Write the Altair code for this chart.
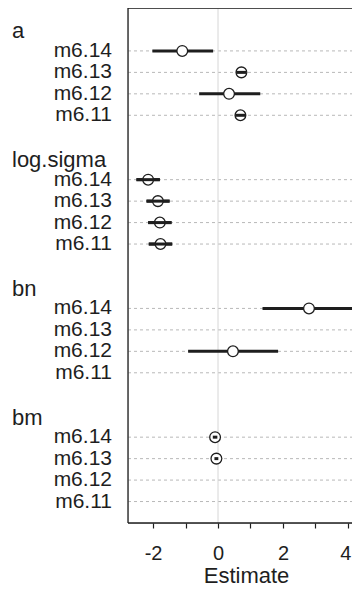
import altair as alt
import pandas as pd

groups = ["a", "log.sigma", "bn", "bm"]
models = ["m6.14", "m6.13", "m6.12", "m6.11"]

est_a = [-1.10, 0.72, 0.34, 0.69]
lo_a = [-2.02, 0.56, -0.58, 0.53]
hi_a = [-0.15, 0.87, 1.30, 0.85]

est_ls = [-2.15, -1.85, -1.79, -1.77]
lo_ls = [-2.51, -2.20, -2.15, -2.13]
hi_ls = [-1.79, -1.49, -1.43, -1.41]

est_bn = [2.80, None, 0.46, None]
lo_bn = [1.37, None, -0.92, None]
hi_bn = [4.25, None, 1.85, None]

est_bm = [-0.09, -0.05, None, None]
lo_bm = [-0.16, -0.11, None, None]
hi_bm = [-0.02, 0.01, None, None]

x_ticks = [-2, -1, 0, 1, 2, 3, 4]
x_domain = [-2.77, 4.124]

W = 224
H = 515
TOTAL_H = 578
FONT = "Liberation Sans, Arial, Helvetica, sans-serif"
INK = "#1e1e1e"

est_all = [est_a, est_ls, est_bn, est_bm]
lo_all = [lo_a, lo_ls, lo_bn, lo_bm]
hi_all = [hi_a, hi_ls, hi_bn, hi_bm]

rows = []
headers = []
for gi, g in enumerate(groups):
    headers.append({"group": g, "row": gi * 6})
    for mi, m in enumerate(models):
        rows.append({
            "group": g,
            "model": m,
            "row": gi * 6 + 1 + mi,
            "est": est_all[gi][mi],
            "lo": lo_all[gi][mi],
            "hi": hi_all[gi][mi],
        })

df = pd.DataFrame(rows)
dh = pd.DataFrame(headers)
one = pd.DataFrame({"v": [0]})

yenc = alt.Y("row:Q", scale=alt.Scale(domain=[-1, 23], reverse=True, nice=False, zero=False), axis=None)

xaxis = alt.Axis(
    values=x_ticks,
    labelExpr="datum.value % 2 == 0 ? '' + datum.value : ''",
    domain=False,
    grid=False,
    ticks=True,
    tickSize=5,
    tickColor=INK,
    tickWidth=1.2,
    labelFontSize=20,
    labelColor=INK,
    labelFont=FONT,
    labelPadding=15,
    labelBaseline="top",
    labelOverlap=False,
    labelBound=False,
    labelFlush=5,
    labelFlushOffset=3,
    title="Estimate",
    titleFont=FONT,
    titleFontSize=22,
    titleFontWeight="normal",
    titleColor=INK,
    titleBaseline="alphabetic",
    titleX=118,
    titleY=59,
)
xscale = alt.Scale(domain=x_domain, nice=False, zero=False)

grid = alt.Chart(df).mark_rule(color="#b8b8b8", strokeDash=[3, 3], strokeWidth=1).encode(
    x=alt.value(0), x2=alt.value(W), y=yenc
)

zero = alt.Chart(one).mark_rule(color="#d6d6d6", strokeWidth=1).encode(
    x=alt.X("v:Q", scale=xscale, axis=xaxis), y=alt.value(0), y2=alt.value(H)
)

ci = alt.Chart(df).transform_filter("isValid(datum.est)").mark_rule(
    color=INK, strokeWidth=3
).encode(x=alt.X("lo:Q", scale=xscale, axis=xaxis), x2="hi:Q", y=yenc)

pts = alt.Chart(df).transform_filter("isValid(datum.est)").mark_point(
    shape="circle", filled=False, fill="white", fillOpacity=1, stroke=INK, strokeWidth=1.3, size=115, opacity=1
).encode(x=alt.X("est:Q", scale=xscale, axis=xaxis), y=yenc)

ci_inner = alt.Chart(df).transform_filter("isValid(datum.est) && datum.hi - datum.lo < 1").mark_rule(
    color=INK, strokeWidth=3
).encode(x=alt.X("lo:Q", scale=xscale, axis=xaxis), x2="hi:Q", y=yenc)

mlabels = alt.Chart(df).mark_text(
    align="right", baseline="alphabetic", dy=6, fontSize=21, font=FONT, color=INK
).encode(x=alt.value(-16), y=yenc, text="model:N")

hlabels = alt.Chart(dh).mark_text(
    align="left", baseline="alphabetic", dy=9, fontSize=22, font=FONT, color=INK
).encode(x=alt.value(-116), y=yenc, text="group:N")

left = alt.Chart(one).mark_rule(color=INK, strokeWidth=1.3).encode(
    x=alt.value(0), y=alt.value(0), y2=alt.value(H)
)
top = alt.Chart(one).mark_rule(color=INK, strokeWidth=1.3).encode(
    x=alt.value(0), x2=alt.value(W), y=alt.value(0)
)
bottom = alt.Chart(one).mark_rule(color=INK, strokeWidth=1.3).encode(
    x=alt.value(0), x2=alt.value(W), y=alt.value(H)
)

chart = alt.layer(
    grid, zero, ci, pts, ci_inner, mlabels, hlabels, left, top, bottom
).properties(
    width=W,
    height=H,
    padding={"left": 120, "top": 0, "right": 0, "bottom": TOTAL_H - H},
    autosize=alt.AutoSizeParams(type="none"),
).configure_view(stroke=None).configure(background="white")

chart.save("out.html", embed_options={"renderer": "svg", "actions": False})
